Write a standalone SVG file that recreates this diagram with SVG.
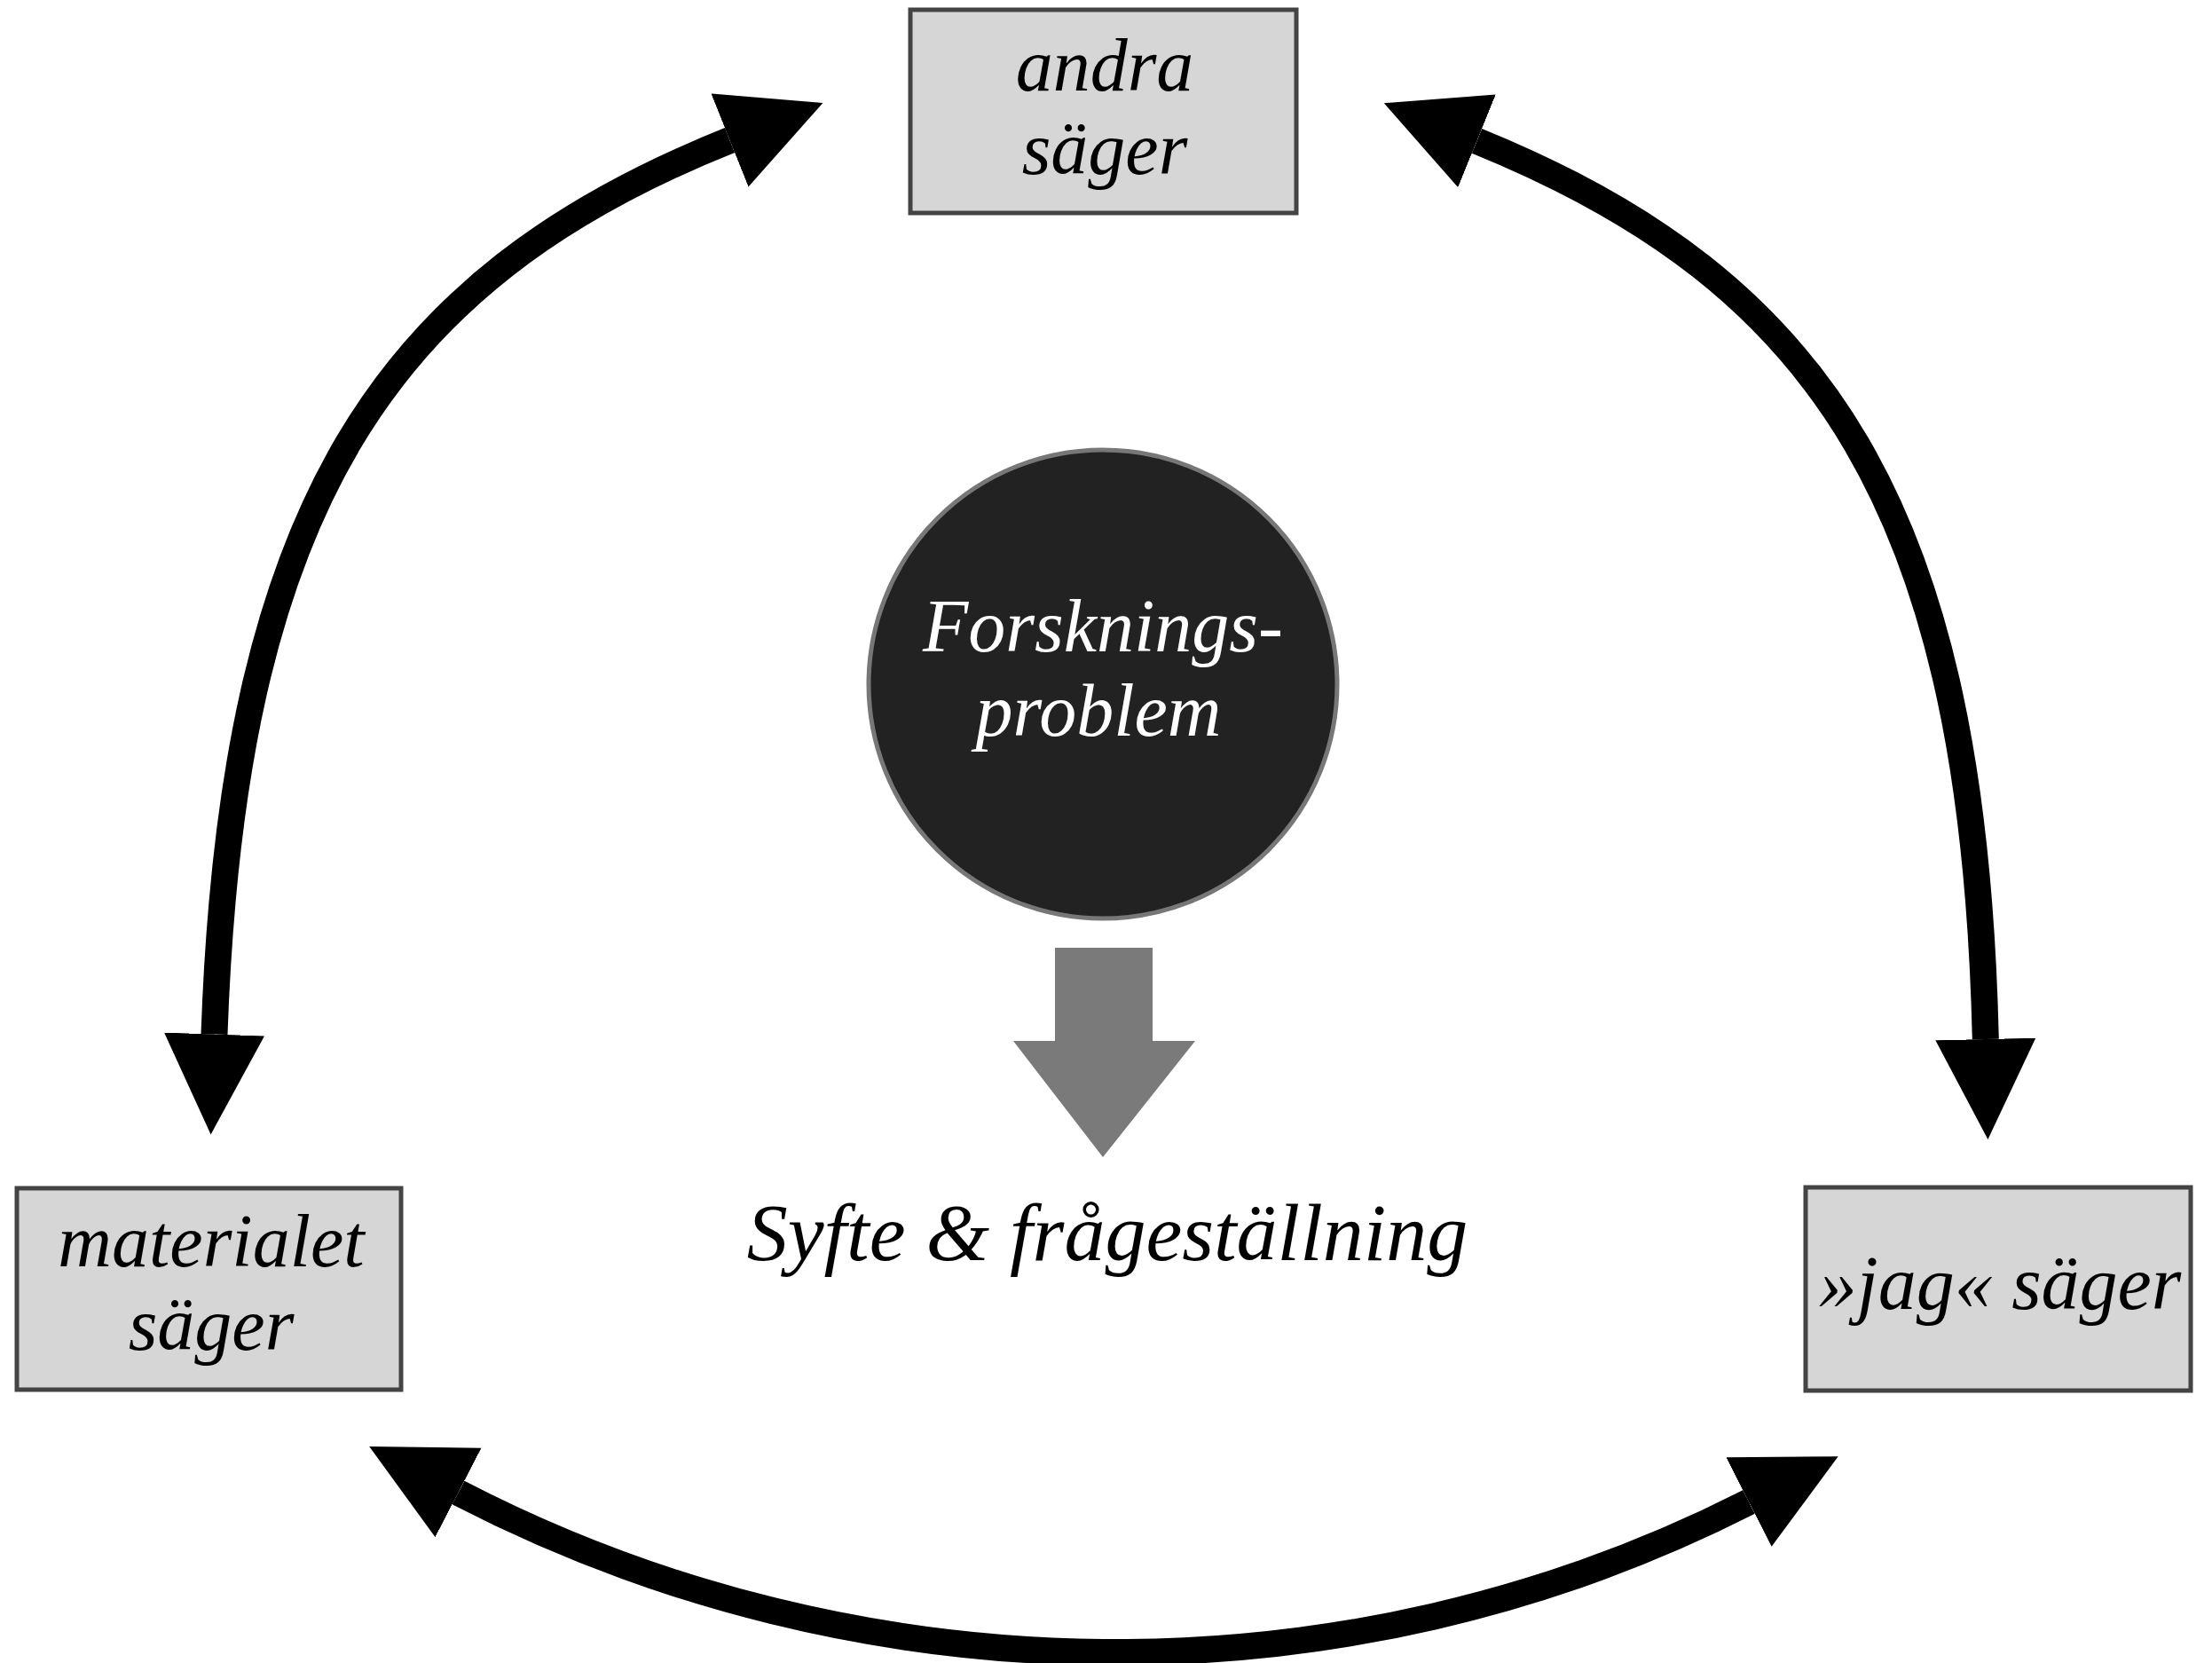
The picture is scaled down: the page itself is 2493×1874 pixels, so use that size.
<svg xmlns="http://www.w3.org/2000/svg" width="2493" height="1874" viewBox="0 0 2493 1874">
<style>
.box{fill:#d6d6d6;stroke:#444;stroke-width:5}
.lbl{font-family:"Liberation Serif","Times New Roman",serif;font-style:italic;font-size:84px;fill:#000;text-anchor:middle}
.wlbl{font-family:"Liberation Serif","Times New Roman",serif;font-style:italic;font-size:84px;fill:#fff;text-anchor:middle}
.arc{fill:none;stroke:#000;stroke-width:30;marker-start:url(#head);marker-end:url(#head)}
</style>
<defs>
<marker id="head" markerUnits="userSpaceOnUse" markerWidth="114" markerHeight="114" viewBox="0 0 112 112" refX="0" refY="55.5" orient="auto-start-reverse">
<path d="M0,0 L111,55.5 L0,111 Z" fill="#000"/>
</marker>
</defs>
<rect width="2493" height="1874" fill="#fff"/>
<g id="connectors">
<path class="arc" d="M241.5,1165.5 C262,575 430,315 822.5,158"/>
<path class="arc" d="M2237.8,1171 C2224,575 2056,318 1664.5,158.8"/>
<path class="arc" d="M516.5,1682 C969.4,1916.6 1516.6,1924 1971,1692.5"/>
<polygon points="1189,1068 1299,1068 1299,1173 1347,1173 1243,1304 1142,1173 1189,1173" fill="#7a7a7a"/>
</g>
<g id="andra">
<rect class="box" x="1026" y="11" width="435" height="229"/>
<text class="lbl"><tspan x="1245" y="102">andra</tspan><tspan x="1245" y="196">säger</tspan></text>
</g>
<g id="materialet">
<rect class="box" x="19" y="1339" width="433" height="227"/>
<text class="lbl"><tspan x="238" y="1427">materialet</tspan><tspan x="238" y="1521">säger</tspan></text>
</g>
<g id="jag">
<rect class="box" x="2035" y="1338" width="434" height="229"/>
<text class="lbl" x="2254" y="1475" style="font-size:86px">»jag« säger</text>
</g>
<g id="forskningsproblem">
<circle cx="1243" cy="771" r="264" fill="#222" stroke="#777" stroke-width="5"/>
<text class="wlbl"><tspan x="1243" y="734">Forsknings-</tspan><tspan x="1238" y="829">problem</tspan></text>
</g>
<g id="syfte">
<text class="lbl" x="1248" y="1420" style="font-size:92px">Syfte &amp; frågeställning</text>
</g>
</svg>
